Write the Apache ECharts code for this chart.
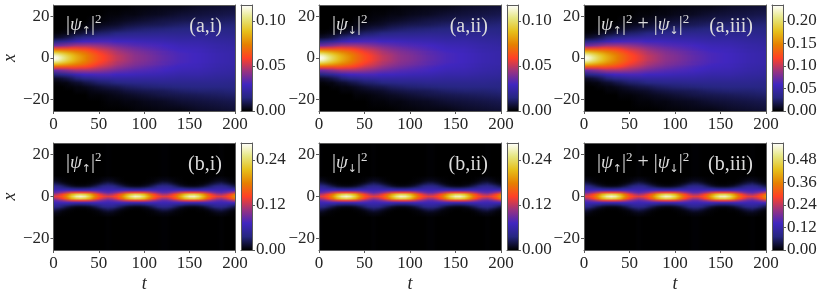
<!DOCTYPE html>
<html><head><meta charset="utf-8">
<style>html,body{margin:0;padding:0;background:#fff}#c{width:822px;height:295px}</style>
<script src="https://cdn.jsdelivr.net/npm/echarts@6/dist/echarts.min.js"></script>
</head><body><div id="c"></div>
<script>
// Densities, in units of 0.001. One row per time; columns follow the |x| list.
const tA = [0,5,10,15,20,25,30,35,40,50,60,70,80,90,100,120,140,160,180,200];
const xA = [0,1,2,3,4,5,6,8,10,12,14,16,18,21,25.6];
const densityA = [
[118,114,103,88,70,52,36,14,4,1,0,0,0,0,0],
[114,110,100,86,69,52,37,16,5,1,0,0,0,0,0],
[106,103,95,83,68,53,39,18,6,2,0,0,0,0,0],
[98,96,90,80,67,53,41,20,8,2,1,0,0,0,0],
[91,90,85,77,66,55,43,23,10,4,1,0,0,0,0],
[85,84,80,74,65,55,45,26,13,5,2,1,0,0,0],
[80,79,76,71,63,54,45,28,14,6,2,1,0,0,0],
[75,75,72,68,61,54,45,30,16,8,3,1,0,0,0],
[70,70,68,64,59,52,45,30,17,9,4,2,1,0,0],
[62,62,60,57,53,48,43,31,20,12,6,3,1,0,0],
[56,56,54,52,49,45,40,31,21,13,8,4,2,1,0],
[50,50,48,47,44,41,37,29,22,15,9,5,3,1,0],
[46,46,45,43,41,38,35,29,22,16,11,7,4,2,0],
[42,42,41,40,38,36,33,28,22,17,12,8,5,2,1],
[40,40,39,38,36,34,32,27,22,17,13,9,6,3,1],
[35,35,34,34,32,31,30,26,22,18,14,10,8,4,2],
[31,31,31,30,29,28,27,24,21,18,15,12,9,6,2],
[29,29,29,28,28,27,26,24,21,18,16,13,10,7,4],
[26,26,26,25,25,24,24,22,20,18,16,13,11,8,5],
[24,24,24,24,23,23,22,21,19,17,16,14,12,9,6]];
const tB = [0,5,10,15,20,25,30,35,40,45,50,55,60,65,70,75,80,85,90,95,100,105,110,115,120,125,130,135,140,145,150,155,160,165,170,175,180,185,190,195,200];
const xB = [0,1,2,3,4,5,6,7,8,10];
const densityB = [
[130,108,80,64,54,42,28,15,7,1],
[137,120,88,66,52,37,22,11,5,0],
[155,140,100,68,44,29,14,5,2,0],
[185,170,116,68,38,19,7,2,1,0],
[225,205,128,67,32,11,3,1,0,0],
[258,226,133,66,29,7,1,0,0,0],
[270,235,135,66,28,6,1,0,0,0],
[258,226,133,66,29,7,1,0,0,0],
[225,205,128,67,32,11,3,1,0,0],
[185,170,116,68,38,19,7,2,1,0],
[155,140,100,68,44,29,14,5,2,0],
[137,120,88,66,52,37,22,11,5,0],
[130,108,80,64,54,42,28,15,7,1],
[135,115,86,65,53,39,24,12,6,0],
[150,134,96,67,46,31,16,7,3,0],
[176,161,111,68,40,22,9,3,1,0],
[213,195,124,67,34,13,4,1,0,0],
[248,220,131,66,30,8,2,0,0,0],
[268,233,134,66,28,6,1,0,0,0],
[261,228,134,66,28,7,1,0,0,0],
[235,211,130,67,31,10,3,1,0,0],
[197,180,120,68,36,16,6,2,1,0],
[164,149,105,68,42,26,12,4,2,0],
[142,126,92,66,50,35,20,9,4,0],
[132,111,82,65,54,41,26,14,6,1],
[133,112,83,65,54,40,26,13,6,1],
[144,128,93,66,49,34,19,9,4,0],
[167,152,106,68,42,25,11,4,2,0],
[201,184,121,67,36,15,5,2,1,0],
[238,213,130,67,31,9,2,1,0,0],
[263,229,134,66,28,7,1,0,0,0],
[266,231,134,66,28,6,1,0,0,0],
[245,218,131,66,30,9,2,1,0,0],
[209,191,123,67,34,14,4,1,0,0],
[173,158,110,68,41,23,10,3,1,0],
[148,132,95,67,47,32,17,8,3,0],
[134,114,85,65,53,39,24,13,6,0],
[131,109,81,64,54,42,28,15,7,1],
[139,122,89,66,51,36,21,10,5,0],
[158,143,102,68,44,28,13,5,2,0],
[189,173,117,68,37,18,7,2,1,0]];
const xTicks = [0,50,100,150,200];
const yTicks = [-20,0,20];
const cbTicksA = [0,0.05,0.10];
const cbTicksA3 = [0,0.05,0.10,0.15,0.20];
const cbTicksB = [0,0.12,0.24];
const cbTicksB3 = [0,0.12,0.24,0.36,0.48];
const cbMaxA = 0.1178, cbMaxB = 0.285;
const cmap = ['#000000','#262680','#4026bf','#993380','#ff4026','#e68000','#e6bf1a','#e6e680','#ffffff'];
const tags = ['(a,i)','(a,ii)','(a,iii)','(b,i)','(b,ii)','(b,iii)'];
const UP='{b||}{p|ψ}{s|↑}{b||}{u|2}', DN='{b||}{p|ψ}{s|↓}{b||}{u|2}';
const labels = [UP,DN,UP+'{b| + }'+DN,UP,DN,UP+'{b| + }'+DN];

const FONT='"Liberation Serif"', TXT='#262626', LINE='#5a5a5a';
const lefts=[53,319,584], cbLefts=[241,507,772], W=182, CW=11;
const tops=[5,143], Hs=[106,107];
function color(v){
  const p=Math.max(0,Math.min(1,v))*(cmap.length-1), i=Math.min(cmap.length-2,Math.floor(p));
  return echarts.color.lerp(p-i,[cmap[i],cmap[i+1]]);
}
const grids=[],xAxes=[],yAxes=[],series=[],titles=[];
function addAxes(g,opt){
  // two x and two y axes per grid: the second pair only draws the frame
  const line={show:true,onZero:false,lineStyle:{color:LINE,width:1}};
  const lab={fontFamily:FONT,fontSize:17,color:TXT};
  const xi=xAxes.length, yi=yAxes.length;
  xAxes.push({gridIndex:g,type:'value',min:opt.xMin,max:opt.xMax,position:'bottom',z:5,splitLine:{show:false},axisLine:line,
    name:opt.xName||'',nameLocation:'middle',nameGap:25,nameTextStyle:{fontFamily:FONT,fontSize:18,fontStyle:'italic',color:TXT},
    axisTick:opt.xTicks?{show:true,length:3,customValues:opt.xTicks,lineStyle:{color:LINE}}:{show:false},
    axisLabel:opt.xTicks?Object.assign({show:true,customValues:opt.xTicks,hideOverlap:false,margin:5},lab):{show:false}});
  xAxes.push({gridIndex:g,type:'value',min:opt.xMin,max:opt.xMax,position:'top',z:5,splitLine:{show:false},axisLine:line,axisTick:{show:false},axisLabel:{show:false}});
  const f=opt.fmt;
  const main={gridIndex:g,type:'value',min:opt.yMin,max:opt.yMax,position:opt.yRight?'right':'left',z:5,splitLine:{show:false},axisLine:line,
    name:opt.yName||'',nameLocation:'middle',nameRotate:90,nameGap:29,nameTextStyle:{fontFamily:FONT,fontSize:18,fontStyle:'italic',color:TXT},
    axisTick:{show:true,length:3,customValues:opt.yTicks,lineStyle:{color:LINE}},
    axisLabel:Object.assign({show:true,customValues:opt.yTicks,formatter:f,margin:4},lab)};
  const other={gridIndex:g,type:'value',min:opt.yMin,max:opt.yMax,position:opt.yRight?'left':'right',z:5,splitLine:{show:false},axisLine:line,axisTick:{show:false},axisLabel:{show:false}};
  yAxes.push(main,other);
  return [xi,yi];
}
const dens=[[densityA,tA,xA,cbMaxA],[densityB,tB,xB,cbMaxB]];
[0,1].forEach(r=>{
  const [table,ts,xs,base]=dens[r];
  [0,1,2].forEach(c=>{
    const scale=c===2?2:1, cbMax=base*scale;
    const ticks=r===0?(c===2?cbTicksA3:cbTicksA):(c===2?cbTicksB3:cbTicksB);
    // heat panel: one cell between two neighbouring read-off times, shaded like a smooth pcolormesh
    let g=grids.length;
    grids.push({left:lefts[c],top:tops[r],width:W,height:Hs[r]});
    let [xi,yi]=addAxes(g,{xMin:0,xMax:200,yMin:-25.6,yMax:25.6,xTicks:xTicks,yTicks:yTicks,
      xName:r===1?'t':'',yName:c===0?'x':'',
      fmt:v=>String(v).replace('-','\u2212')});
    series.push({type:'custom',coordinateSystem:'cartesian2d',xAxisIndex:xi,yAxisIndex:yi,silent:true,clip:true,z:2,
      data:ts.slice(0,-1).map((t,i)=>[t,ts[i+1],-25.6,25.6]),encode:{x:[0,1],y:[2,3]},
      renderItem:(p,api)=>{
        const a=api.coord([api.value(0),api.value(3)]), b=api.coord([api.value(1),api.value(2)]);
        const L=table[p.dataIndex], R=table[p.dataIndex+1];
        const x0=Math.round(a[0]), x1=Math.round(b[0]), kids=[];
        for(let px=x0;px<x1;px++){
          const f=(px+0.5-a[0])/(b[0]-a[0]), stops=[];
          const st=(x,j)=>stops.push({offset:(25.6-x)/51.2,color:color((L[j]+(R[j]-L[j])*f)*0.001*scale/cbMax)});
          for(let j=xs.length-1;j>=0;j--) st(xs[j],j);
          for(let j=1;j<xs.length;j++) st(-xs[j],j);
          kids.push({type:'rect',shape:{x:px,y:a[1],width:1,height:b[1]-a[1]},
            style:{fill:new echarts.graphic.LinearGradient(0,0,0,1,stops)}});
        }
        return {type:'group',children:kids};
      }});
    // colour bar
    g=grids.length;
    grids.push({left:cbLefts[c],top:tops[r],width:CW,height:Hs[r]});
    [xi,yi]=addAxes(g,{xMin:0,xMax:1,yMin:0,yMax:cbMax,yTicks:ticks,yRight:true,fmt:v=>Number(v).toFixed(2)});
    series.push({type:'custom',coordinateSystem:'cartesian2d',xAxisIndex:xi,yAxisIndex:yi,silent:true,clip:true,z:2,
      data:[[0,1,0,cbMax]],encode:{x:[0,1],y:[2,3]},
      renderItem:(p,api)=>{
        const a=api.coord([api.value(0),api.value(3)]), b=api.coord([api.value(1),api.value(2)]);
        const stops=cmap.map((col,i)=>({offset:1-i/(cmap.length-1),color:col})).reverse();
        return {type:'rect',shape:{x:a[0],y:a[1],width:b[0]-a[0],height:b[1]-a[1]},
          style:{fill:new echarts.graphic.LinearGradient(0,0,0,1,stops)}};
      }});
    // panel captions
    const i=r*3+c, W2='#dcdcdc';
    titles.push({text:labels[i],left:lefts[c]+13,top:tops[r]+8,padding:0,z:8,
      textStyle:{color:W2,fontFamily:FONT,fontSize:19,fontWeight:'normal',lineHeight:24,rich:{
        b:{color:W2,fontFamily:FONT,fontSize:20,lineHeight:24},
        p:{color:W2,fontFamily:FONT,fontSize:19,fontStyle:'italic',lineHeight:24},
        s:{color:W2,fontFamily:'DejaVu Sans',fontSize:11,verticalAlign:'bottom',lineHeight:24},
        u:{color:W2,fontFamily:FONT,fontSize:13,verticalAlign:'top',lineHeight:24}}}});
    titles.push({text:tags[i],right:822-(lefts[c]+W-13),top:tops[r]+10,padding:0,z:8,
      textStyle:{color:W2,fontFamily:FONT,fontSize:20,fontWeight:'normal',lineHeight:24}});
  });
});
const chart=echarts.init(document.getElementById('c'),null,{renderer:'canvas'});
chart.setOption({animation:false,backgroundColor:'#fff',title:titles,grid:grids,xAxis:xAxes,yAxis:yAxes,series:series});
</script></body></html>
